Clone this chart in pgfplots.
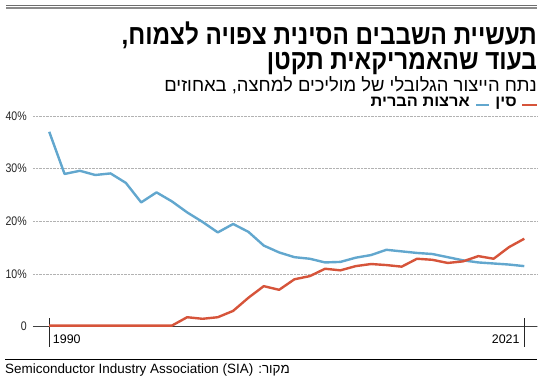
\documentclass[border=0pt]{standalone}
\usepackage{pgfplots}
\pgfplotsset{compat=1.18}
\usepackage{fontspec}
\setmainfont{Liberation Sans}
\newfontfamily\heb[Script=Hebrew]{Liberation Sans}
\newfontfamily\hebc[Script=Hebrew,FakeStretch=0.87]{Liberation Sans}
\newfontfamily\hebw[Script=Hebrew,FakeStretch=1.06]{Liberation Sans}
\newfontfamily\cond[FakeStretch=0.85]{Liberation Sans}
\TeXXeTstate=1
\definecolor{usblue}{HTML}{62A7CE}
\definecolor{cnred}{HTML}{D6543A}
\definecolor{rulegray}{HTML}{6E6E6E}
\pgfplotstableread{
year us cn
1990 37.0 0.2
1991 29.0 0.2
1992 29.6 0.2
1993 28.8 0.2
1994 29.1 0.2
1995 27.3 0.2
1996 23.6 0.2
1997 25.5 0.2
1998 23.8 0.2
1999 21.7 1.8
2000 19.9 1.5
2001 17.9 1.8
2002 19.5 3.0
2003 18.0 5.5
2004 15.4 7.7
2005 14.1 7.0
2006 13.2 9.0
2007 12.9 9.6
2008 12.2 11.0
2009 12.3 10.7
2010 13.1 11.5
2011 13.6 11.9
2012 14.6 11.7
2013 14.3 11.4
2014 14.0 12.9
2015 13.8 12.7
2016 13.2 12.1
2017 12.6 12.4
2018 12.2 13.4
2019 12.0 12.9
2020 11.8 15.1
2021 11.5 16.7
}\datatable
\begin{document}
\begin{tikzpicture}
\useasboundingbox (0bp,0bp) rectangle (550bp,386bp);
\begin{scope}[x=1bp,y=1bp]
% top rules
\draw[rulegray, line width=1.3bp] (6,380.3) -- (537,380.3);
\draw[rulegray!80, line width=1.2bp] (6,378) -- (537,378);
% title
\node[anchor=base east, inner sep=0pt, font=\hebc\bfseries\fontsize{28}{28}\selectfont] at (537,342) {\beginR תעשיית השבבים הסינית צפויה לצמוח,\endR};
\node[anchor=base east, inner sep=0pt, font=\hebc\bfseries\fontsize{28}{28}\selectfont] at (537,316.5) {\beginR בעוד שהאמריקאית תקטן\endR};
\node[anchor=base east, inner sep=0pt, font=\heb\fontsize{18.5}{18.5}\selectfont] at (537,294.5) {\beginR נתח הייצור הגלובלי של מוליכים למחצה, באחוזים\endR};
% legend
\draw[cnred, line width=2.2bp] (522,281) -- (537,281);
\node[anchor=base east, inner sep=0pt, font=\hebw\bfseries\fontsize{15.5}{15.5}\selectfont] at (517,279.5) {\beginR סין\endR};
\draw[usblue, line width=2.2bp] (476,281) -- (489,281);
\node[anchor=base east, inner sep=0pt, font=\hebw\bfseries\fontsize{15.5}{15.5}\selectfont] at (470,279.5) {\beginR ארצות הברית\endR};
% bottom rule and source
\draw[black, line width=1bp] (5,26.7) -- (537,26.7);
\node[anchor=base west, inner sep=0pt, font=\fontsize{13.5}{13.5}\selectfont] at (5,12.5) {\beginR\heb מקור: \beginL Semiconductor Industry Association (SIA)\endL\endR};
\end{scope}
\begin{axis}[
  at={(33bp,59.3bp)}, anchor=south west,
  scale only axis, width=504bp, height=210.7bp,
  xmin=1988.94, xmax=2021.83, ymin=0, ymax=40,
  clip=false,
  axis line style={draw=none},
  major tick length=0pt,
  xtick=\empty,
  ytick={0,10,20,30,40},
  yticklabels={0\hspace{5bp},10\%,20\%,30\%,40\%},
  yticklabel style={font=\cond\fontsize{12.5}{12.5}\selectfont, text=black!85, inner sep=0pt, xshift=-6bp},
  ymajorgrids,
  grid style={densely dotted, gray!60, line width=0.6bp},
]
\draw[black!75, line width=0.9bp] (rel axis cs:0,0) -- (rel axis cs:1,0);
\draw[black!85, line width=0.9bp] ([yshift=8.5bp]axis cs:1990,0) -- ([yshift=-20.5bp]axis cs:1990,0);
\draw[black!85, line width=0.9bp] ([yshift=8.5bp]axis cs:2021,0) -- ([yshift=-20.5bp]axis cs:2021,0);
\node[anchor=base west, inner sep=0pt, font=\fontsize{12.5}{12.5}\selectfont] at ([xshift=3.5bp,yshift=-16.5bp]axis cs:1990,0) {1990};
\node[anchor=base east, inner sep=0pt, font=\fontsize{12.5}{12.5}\selectfont] at ([xshift=-4.5bp,yshift=-16.5bp]axis cs:2021,0) {2021};
\addplot[usblue, line width=2.4bp, line join=round] table[x=year,y=us] {\datatable};
\addplot[cnred, line width=2.4bp, line join=round] table[x=year,y=cn] {\datatable};
\end{axis}
\end{tikzpicture}
\end{document}
